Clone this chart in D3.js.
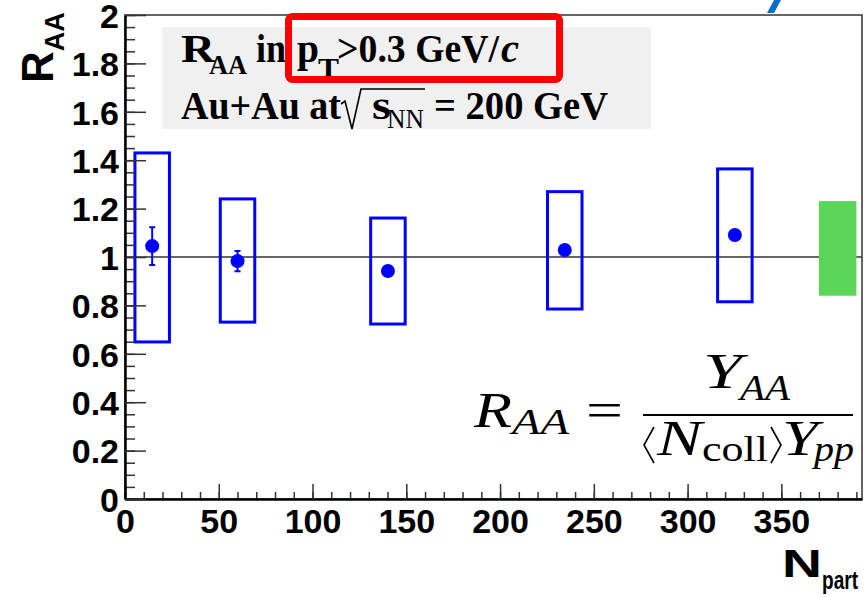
<!DOCTYPE html>
<html>
<head>
<meta charset="utf-8">
<script src="https://cdn.jsdelivr.net/npm/d3@7"></script>
<style>
  body { margin: 0; background: #fff; }
  svg { display: block; }
</style>
</head>
<body>
<script>
// ---- data ----
const npart    = [14.5, 60, 140.2, 234.5, 325.2];
const raa      = [1.045, 0.983, 0.942, 1.029, 1.091];
const statErr  = [0.078, 0.042, 0.02, 0.02, 0.02];
const sysLow   = [0.649, 0.731, 0.723, 0.785, 0.815];
const sysHigh  = [1.43, 1.24, 1.161, 1.27, 1.364];
const boxHalf  = 10;               // half width of the systematic boxes, in Npart
const normX    = [370, 390];       // global normalisation band
const normY    = [0.84, 1.231];
const xTicks   = [0, 50, 100, 150, 200, 250, 300, 350];
const yTicks   = [0, 0.2, 0.4, 0.6, 0.8, 1, 1.2, 1.4, 1.6, 1.8, 2];
const yLabels  = ["0", "0.2", "0.4", "0.6", "0.8", "1", "1.2", "1.4", "1.6", "1.8", "2"];

const W = 864, H = 597;
const mLeft = 125, mTop = 15, mRight = 862, mBottom = 499;

const svg = d3.select("body").append("svg").attr("width", W).attr("height", H);

const x = d3.scaleLinear().domain([0, 393]).range([mLeft, mRight]);
const y = d3.scaleLinear().domain([0, 2]).range([mBottom, mTop]);

// frame (top / right thin lines)
svg.append("rect")
  .attr("x", mLeft).attr("y", mTop).attr("width", mRight - mLeft).attr("height", mBottom - mTop)
  .attr("fill", "none").attr("stroke", "#333").attr("stroke-width", 1.5);

// label box
svg.append("rect").attr("x", 162).attr("y", 27).attr("width", 489).attr("height", 102).attr("fill", "#f0f0f0");

// unity line
svg.append("line")
  .attr("x1", x(0)).attr("x2", x(393)).attr("y1", y(1)).attr("y2", y(1))
  .attr("stroke", "#333").attr("stroke-width", 1.5);

// systematic boxes
svg.append("g").selectAll("rect").data(npart).enter().append("rect")
  .attr("x", (d) => x(d - boxHalf) + 1.5)
  .attr("y", (d, i) => y(sysHigh[i]))
  .attr("width", (d) => x(d + boxHalf) - x(d - boxHalf) - 3)
  .attr("height", (d, i) => y(sysLow[i]) - y(sysHigh[i]))
  .attr("fill", "none").attr("stroke", "#0000ff").attr("stroke-width", 3);

// normalisation band
svg.append("rect")
  .attr("x", x(normX[0])).attr("width", x(normX[1]) - x(normX[0]))
  .attr("y", y(normY[1])).attr("height", y(normY[0]) - y(normY[1]))
  .attr("fill", "#5bd65b");

// stat error bars
const eb = svg.append("g").attr("stroke", "#0000ff").attr("stroke-width", 2);
npart.forEach((d, i) => {
  eb.append("line").attr("x1", x(d)).attr("x2", x(d))
    .attr("y1", y(raa[i] - statErr[i])).attr("y2", y(raa[i] + statErr[i]));
  [raa[i] - statErr[i], raa[i] + statErr[i]].forEach((v) => {
    eb.append("line").attr("x1", x(d) - 3).attr("x2", x(d) + 3).attr("y1", y(v)).attr("y2", y(v));
  });
});

// points
svg.append("g").selectAll("circle").data(npart).enter().append("circle")
  .attr("cx", (d) => x(d)).attr("cy", (d, i) => y(raa[i])).attr("r", 7)
  .attr("fill", "#0000ff");

// axes
const tickFont = "'Liberation Sans', Arial, Helvetica, sans-serif";
function styleAxis(g) {
  g.select(".domain").attr("stroke", "#000").attr("stroke-width", 2.5);
  g.selectAll(".tick line").attr("stroke", "#333").attr("stroke-width", 1.5);
  g.selectAll("text").attr("font-family", tickFont).attr("font-weight", "bold")
    .attr("font-size", 34).attr("fill", "#000");
}

svg.append("g").attr("transform", `translate(0,${mBottom})`)
  .call(d3.axisBottom(x).tickValues(d3.range(0, 393, 10)).tickSize(-7).tickFormat("").tickSizeOuter(0))
  .call((g) => { g.select(".domain").remove(); g.selectAll(".tick line").attr("stroke", "#333").attr("stroke-width", 1.5); });
svg.append("g").attr("transform", `translate(${mLeft},0)`)
  .call(d3.axisLeft(y).tickValues(d3.range(0, 2.001, 0.05)).tickSize(-10).tickFormat("").tickSizeOuter(0))
  .call((g) => { g.select(".domain").remove(); g.selectAll(".tick line").attr("stroke", "#333").attr("stroke-width", 1.5); });

svg.append("g").attr("transform", `translate(0,${mBottom})`)
  .call(d3.axisBottom(x).tickValues(xTicks).tickSize(-15).tickPadding(10).tickSizeOuter(0))
  .call(styleAxis);
svg.append("g").attr("transform", `translate(${mLeft},0)`)
  .call(d3.axisLeft(y).tickValues(yTicks).tickFormat((d, i) => yLabels[i]).tickSize(-21).tickPadding(6).tickSizeOuter(0))
  .call(styleAxis)
  .call((g) => g.selectAll("text").attr("dy", "0.36em"));

// ---- text helpers ----
function seg(str, xp, yp, size, len, o) {
  o = o || {};
  const t = svg.append("text").attr("x", xp).attr("y", yp)
    .attr("font-family", o.family || "'Liberation Serif', 'Times New Roman', serif")
    .attr("font-weight", o.weight || "bold")
    .attr("font-style", o.style || "normal")
    .attr("font-size", size).attr("fill", o.fill || "#000")
    .text(str);
  if (len) t.attr("textLength", len).attr("lengthAdjust", "spacingAndGlyphs");
  return t;
}

// box line 1: R_AA in p_T>0.3 GeV/c
seg("R", 181, 62, 40, 34);
seg("AA", 209, 74, 28, 38);
seg("in", 256, 62, 40, 30);
seg("p", 297, 62, 40, 22);
seg("T", 318, 77, 27, 21);
seg(">0.3 GeV/", 337, 62, 40, 162);
seg("c", 501, 62, 40, 18, { style: "italic" });

// box line 2: Au+Au at sqrt(s_NN) = 200 GeV
seg("Au+Au at", 181, 119, 39, 160);
const sq = d3.path();
sq.moveTo(341, 104); sq.lineTo(345, 101); sq.lineTo(352, 129); sq.lineTo(361, 89); sq.lineTo(425, 89);
svg.append("path").attr("d", sq.toString()).attr("fill", "none").attr("stroke", "#000").attr("stroke-width", 1.6);
seg("s", 372, 119, 39, 19);
seg("NN", 387, 128, 27, 37, { weight: "normal" });
seg("= 200 GeV", 434, 119, 39, 174);

// formula
const fOpt = { weight: "normal", style: "italic" };
seg("R", 474, 427, 50, 38, fOpt);
seg("AA", 512, 434, 36, 57, fOpt);
seg("=", 586, 427, 50, 37, { weight: "normal" });
svg.append("line").attr("x1", 643).attr("x2", 853).attr("y1", 415).attr("y2", 415).attr("stroke", "#000").attr("stroke-width", 2);
seg("Y", 703, 388, 50, 39, fOpt);
seg("AA", 740, 400, 36, 50, fOpt);
const br = d3.path();
br.moveTo(654, 427); br.lineTo(644, 445); br.lineTo(654, 463);
br.moveTo(771, 427); br.lineTo(781, 445); br.lineTo(771, 463);
svg.append("path").attr("d", br.toString()).attr("fill", "none").attr("stroke", "#000").attr("stroke-width", 1.6);
seg("N", 657, 455, 50, 45, fOpt);
seg("coll", 702, 461, 36, 66, { weight: "normal" });
seg("Y", 782, 455, 50, 36, fOpt);
seg("pp", 814, 461, 36, 40, fOpt);

// axis titles
const sans = { family: tickFont };
svg.append("text").attr("transform", "translate(53,83) rotate(-90)")
  .attr("font-family", tickFont).attr("font-weight", "bold").attr("font-size", 44)
  .call((t) => {
    t.append("tspan").text("R");
    t.append("tspan").attr("font-size", 27).attr("dy", 11).text("AA");
  });
seg("N", 782, 577, 38, 40, sans);
seg("part", 822, 589, 25, 36, sans);

// red highlight
svg.append("rect").attr("x", 288.5).attr("y", 16.5).attr("width", 271).attr("height", 63)
  .attr("rx", 4).attr("fill", "none").attr("stroke", "#ff0000").attr("stroke-width", 7);

// blue fragment at top edge
const frag = d3.path();
frag.moveTo(767, 13); frag.lineTo(774, 0); frag.lineTo(781, 0); frag.lineTo(774, 13); frag.closePath();
svg.append("path").attr("d", frag.toString()).attr("fill", "#0a6fc8");
</script>
</body>
</html>
